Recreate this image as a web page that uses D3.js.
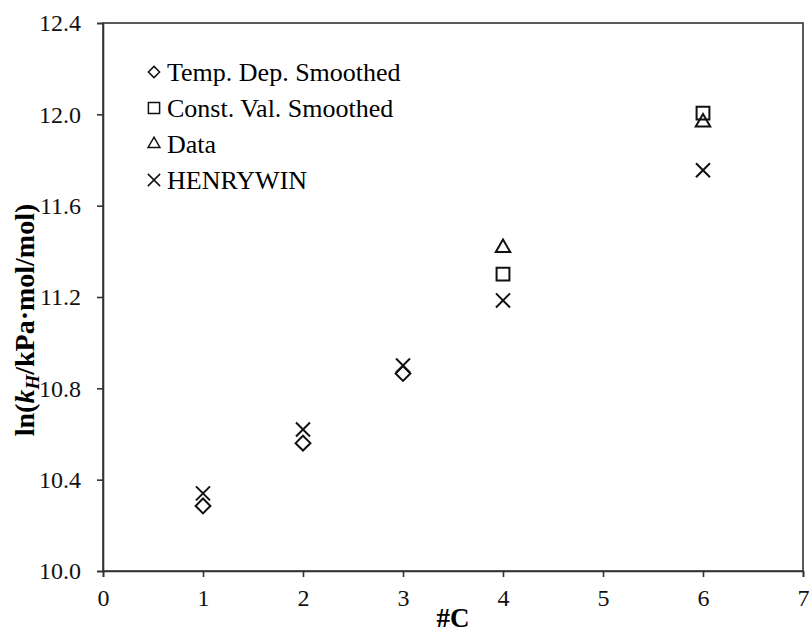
<!DOCTYPE html>
<html lang="en">
<head>
<meta charset="UTF-8">
<title>ln(kH) vs #C</title>
<script src="https://cdn.jsdelivr.net/npm/d3@7"></script>
<style>
  body { margin: 0; background: #fff; }
</style>
</head>
<body>
<script>
// values
const xTicks = [0, 1, 2, 3, 4, 5, 6, 7];
const yTicks = [10.0, 10.4, 10.8, 11.2, 11.6, 12.0, 12.4];

const tempDepX = [1, 2, 3];
const tempDepY = [10.285, 10.56, 10.865];

const constValX = [4, 6];
const constValY = [11.30, 12.005];

const dataX = [4, 6];
const dataY = [11.415, 11.965];

const henryX = [1, 2, 3, 4, 6];
const henryY = [10.34, 10.62, 10.90, 11.185, 11.755];

const seriesNames = ['Temp. Dep. Smoothed', 'Const. Val. Smoothed', 'Data', 'HENRYWIN'];

const serif = 'Liberation Serif';
const width = 812, height = 632;
const margin = {left: 103, right: 9, top: 23, bottom: 61};

const svg = d3.select('body').append('svg')
  .attr('width', width)
  .attr('height', height)
  .attr('font-family', serif);

const x = d3.scaleLinear().domain([0, 7]).range([margin.left, width - margin.right]);
const y = d3.scaleLinear().domain([10, 12.4]).range([height - margin.bottom, margin.top]);

// frame
svg.append('rect')
  .attr('x', x(0)).attr('y', y(12.4))
  .attr('width', x(7) - x(0)).attr('height', y(10) - y(12.4))
  .attr('fill', 'none').attr('stroke', '#333').attr('stroke-width', 1.6);

const xAxis = svg.append('g')
  .attr('transform', `translate(0,${y(10)})`)
  .call(d3.axisBottom(x).tickValues(xTicks).tickFormat(d3.format('d')).tickSize(6).tickPadding(12));

const yAxis = svg.append('g')
  .attr('transform', `translate(${x(0)},0)`)
  .call(d3.axisLeft(y).tickValues(yTicks).tickFormat(d3.format('.1f')).tickSize(6).tickPadding(16));

[xAxis, yAxis].forEach(g => {
  g.attr('font-family', serif).attr('font-size', 24);
  g.select('.domain').attr('stroke', '#333').attr('stroke-width', 1.6);
  g.selectAll('.tick line').attr('stroke', '#333').attr('stroke-width', 1.6);
  g.selectAll('.tick text').attr('fill', '#111');
});

// axis titles
svg.append('text')
  .attr('x', 453).attr('y', 627)
  .attr('text-anchor', 'middle')
  .attr('font-size', 27).attr('font-weight', 'bold')
  .text('#C');

const yLabel = svg.append('text')
  .attr('transform', 'translate(34,320) rotate(-90)')
  .attr('text-anchor', 'middle')
  .attr('font-size', 28).attr('font-weight', 'bold');
yLabel.append('tspan').text('ln(');
yLabel.append('tspan').attr('font-style', 'italic').text('k');
yLabel.append('tspan').attr('font-style', 'italic').attr('font-size', 19).attr('dy', 5).text('H');
yLabel.append('tspan').attr('dy', -5).text('/kPa\u00B7mol/mol)');

// markers
const shapes = [
  d3.symbol().type(d3.symbolDiamond2).size(140),
  d3.symbol().type(d3.symbolSquare2).size(210),
  d3.symbol().type(d3.symbolTriangle2).size(150),
  d3.symbol().type(d3.symbolTimes).size(130)
];

const series = [
  {xs: tempDepX, ys: tempDepY},
  {xs: constValX, ys: constValY},
  {xs: dataX, ys: dataY},
  {xs: henryX, ys: henryY}
];

series.forEach((s, i) => {
  svg.append('g').selectAll('path')
    .data(s.xs.map((v, j) => [v, s.ys[j]]))
    .enter()
    .append('path')
    .attr('d', shapes[i])
    .attr('transform', d => `translate(${x(d[0])},${y(d[1])})`)
    .attr('fill', 'none')
    .attr('stroke', '#111')
    .attr('stroke-width', 2);
});

// legend
const legendShapes = [
  d3.symbol().type(d3.symbolDiamond2).size(80),
  d3.symbol().type(d3.symbolSquare2).size(160),
  d3.symbol().type(d3.symbolTriangle2).size(100),
  d3.symbol().type(d3.symbolTimes).size(100)
];
const legend = svg.append('g').attr('transform', 'translate(154,72)');
seriesNames.forEach((name, i) => {
  const row = legend.append('g').attr('transform', `translate(0,${i * 36})`);
  row.append('path')
    .attr('d', legendShapes[i])
    .attr('fill', 'none').attr('stroke', '#111').attr('stroke-width', 1.5);
  row.append('text')
    .attr('x', 13).attr('y', 9)
    .attr('font-size', 26)
    .text(name);
});
</script>
</body>
</html>
